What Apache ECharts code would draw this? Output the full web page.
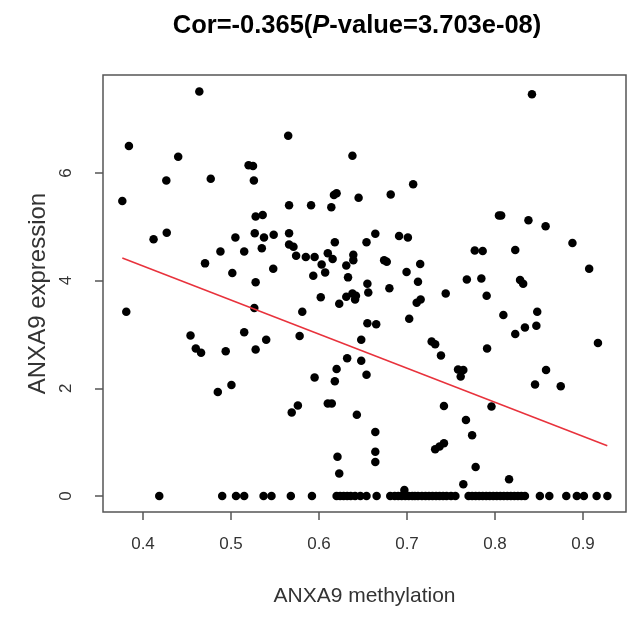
<!DOCTYPE html>
<html>
<head>
<meta charset="utf-8">
<script src="https://cdn.jsdelivr.net/npm/echarts@6/dist/echarts.min.js"></script>
<style>
  html, body { margin: 0; padding: 0; background: #fff; }
  #chart { width: 638px; height: 637px; }
</style>
</head>
<body>
<div id="chart"></div>
<script>
// Samples with detectable expression: [methylation, expression]
const expressedSamples = [
  [0.464,7.51],[0.384,6.50],[0.440,6.30],[0.520,6.14],[0.525,6.13],[0.4265,5.86],[0.477,5.89],[0.526,5.86],
  [0.3765,5.48],[0.528,5.19],[0.536,5.22],[0.412,4.77],[0.427,4.89],[0.505,4.80],[0.527,4.88],[0.5375,4.80],
  [0.5485,4.85],[0.488,4.54],[0.515,4.54],[0.535,4.60],[0.4705,4.32],[0.5015,4.14],[0.548,4.22],[0.528,3.97],
  [0.565,6.69],[0.638,6.32],[0.707,5.79],[0.617,5.59],[0.620,5.62],[0.645,5.54],[0.6815,5.60],[0.566,5.40],
  [0.591,5.40],[0.614,5.36],[0.566,4.88],[0.566,4.67],[0.571,4.63],[0.618,4.71],[0.664,4.87],[0.654,4.71],
  [0.691,4.83],[0.701,4.80],[0.574,4.46],[0.585,4.44],[0.595,4.44],[0.610,4.51],[0.6155,4.40],[0.603,4.30],
  [0.639,4.48],[0.639,4.38],[0.631,4.28],[0.674,4.38],[0.677,4.35],[0.715,4.31],[0.5935,4.09],[0.607,4.15],
  [0.633,4.06],[0.6995,4.16],[0.7125,3.98],[0.655,3.94],[0.680,3.86],
  [0.842,7.46],[0.8045,5.21],[0.807,5.21],[0.838,5.12],[0.8575,5.01],[0.888,4.70],[0.777,4.56],[0.786,4.55],
  [0.823,4.57],[0.907,4.22],[0.768,4.02],[0.7845,4.04],[0.8285,4.01],[0.832,3.94],
  [0.381,3.42],[0.5265,3.49],[0.454,2.98],[0.515,3.04],[0.540,2.90],[0.460,2.74],[0.466,2.66],[0.494,2.69],
  [0.528,2.72],[0.485,1.93],[0.5005,2.06],
  [0.602,3.69],[0.581,3.42],[0.578,2.97],[0.623,3.57],[0.631,3.70],[0.638,3.76],[0.642,3.72],[0.641,3.65],
  [0.656,3.78],[0.711,3.59],[0.7155,3.65],[0.744,3.76],[0.7025,3.29],[0.655,3.21],[0.665,3.19],[0.648,2.90],
  [0.632,2.56],[0.648,2.51],[0.620,2.36],[0.618,2.13],[0.595,2.20],[0.654,2.25],[0.728,2.87],[0.732,2.82],
  [0.7386,2.61],[0.569,1.55],[0.576,1.68],[0.610,1.72],[0.6145,1.72],[0.643,1.51],[0.664,1.19],[0.664,0.82],
  [0.664,0.63],[0.621,0.73],[0.623,0.42],[0.742,1.67],[0.732,0.87],[0.737,0.92],[0.742,0.98],[0.697,0.11],
  [0.7905,3.72],[0.8095,3.36],[0.848,3.42],[0.834,3.13],[0.847,3.16],[0.823,3.01],[0.917,2.84],[0.791,2.74],
  [0.758,2.35],[0.764,2.34],[0.761,2.22],[0.858,2.34],[0.8455,2.07],[0.8747,2.04],[0.796,1.66],[0.767,1.41],
  [0.774,1.13],[0.778,0.54],[0.764,0.22],[0.816,0.31]
];

// Methylation of samples with zero expression
const zeroSamples = [
  0.4185, 0.490, 0.5057, 0.515, 0.537, 0.546, 0.568, 0.592, 0.620, 0.624, 0.628, 0.632, 0.636, 0.641,
  0.647, 0.654, 0.6655, 0.681, 0.686, 0.690, 0.694, 0.698, 0.702, 0.706, 0.709, 0.7125, 0.717, 0.721,
  0.725, 0.729, 0.733, 0.737, 0.741, 0.745, 0.750, 0.755, 0.770, 0.774, 0.778, 0.782, 0.786, 0.790,
  0.794, 0.798, 0.802, 0.806, 0.810, 0.814, 0.818, 0.822, 0.826, 0.830, 0.834, 0.851, 0.8617, 0.881,
  0.893, 0.901, 0.9155, 0.9277
];

// Linear fit endpoints
const fitX = [0.3765, 0.9276];
const fitY = [4.42, 0.934];

// Axis ticks
const xTicks = [0.4, 0.5, 0.6, 0.7, 0.8, 0.9];
const yTicks = [0, 2, 4, 6];

const points = expressedSamples.concat(zeroSamples.map(x => [x, 0]));
const fitLine = fitX.map((x, i) => [x, fitY[i]]);

const FONT = 'Liberation Sans, Arial, sans-serif';
const chart = echarts.init(document.getElementById('chart'), null, { renderer: 'canvas' });

chart.setOption({
  backgroundColor: '#ffffff',
  animation: false,
  title: {
    text: '{a|Cor=-0.365(}{b|P}{a|-value=3.703e-08)}',
    left: 352,
    top: 8,
    textAlign: 'center',
    textStyle: {
      rich: {
        a: { fontFamily: FONT, fontWeight: 'bold', fontSize: 25.5, color: '#000' },
        b: { fontFamily: FONT, fontWeight: 'bold', fontStyle: 'italic', fontSize: 25.5, color: '#000' }
      }
    }
  },
  grid: {
    left: 103, top: 75, width: 523, height: 437,
    show: true, borderColor: '#555', borderWidth: 1.5, backgroundColor: '#fff'
  },
  xAxis: {
    type: 'value',
    min: 0.35455, max: 0.94886,
    name: 'ANXA9 methylation',
    nameLocation: 'middle',
    nameGap: 74,
    nameTextStyle: { fontFamily: FONT, fontSize: 21, color: '#333' },
    splitLine: { show: false },
    axisLine: { show: false, onZero: false },
    axisTick: { show: true, length: 8, inside: false, customValues: xTicks, lineStyle: { color: '#555', width: 1.5 } },
    axisLabel: {
      customValues: xTicks, margin: 24,
      fontFamily: FONT, fontSize: 17, color: '#333',
      formatter: v => v.toFixed(1)
    }
  },
  yAxis: {
    type: 'value',
    min: -0.297, max: 7.818,
    name: 'ANXA9 expression',
    nameLocation: 'middle',
    nameGap: 48,
    nameRotate: 90,
    nameTextStyle: { fontFamily: FONT, fontSize: 24, color: '#333' },
    splitLine: { show: false },
    axisLine: { show: false, onZero: false },
    axisTick: { show: true, length: 8, inside: false, customValues: yTicks, lineStyle: { color: '#555', width: 1.5 } },
    axisLabel: {
      customValues: yTicks, margin: 28, rotate: 90,
      fontFamily: FONT, fontSize: 17, color: '#333',
      formatter: v => String(v)
    }
  },
  series: [
    {
      type: 'scatter',
      data: points,
      symbol: 'circle',
      symbolSize: 8.5,
      itemStyle: { color: '#000', opacity: 1 },
      z: 2
    },
    {
      type: 'line',
      data: fitLine,
      showSymbol: false,
      symbol: 'none',
      lineStyle: { color: '#e8323c', width: 1.5 },
      z: 3
    }
  ]
});
</script>
</body>
</html>
